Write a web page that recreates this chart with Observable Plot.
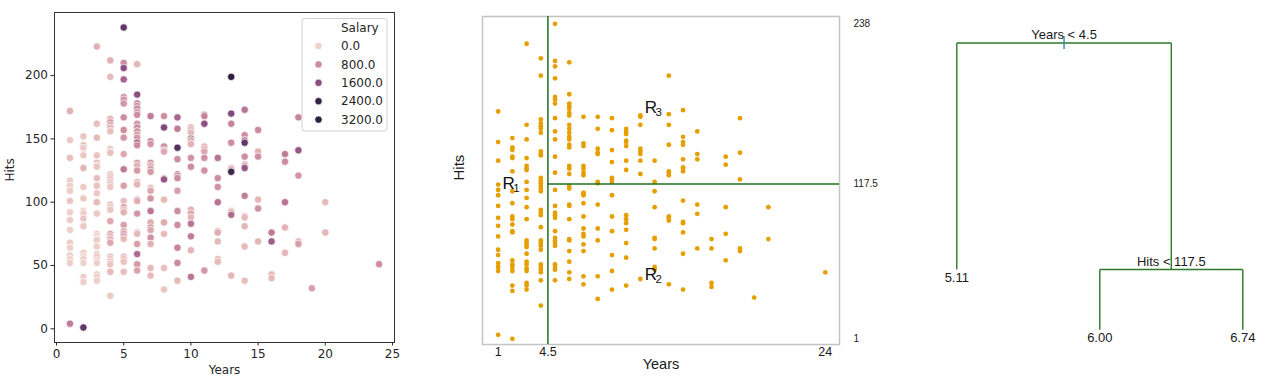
<!DOCTYPE html>
<html>
<head>
<meta charset="utf-8">
<script src="https://cdn.jsdelivr.net/npm/d3@7"></script>
<script src="https://cdn.jsdelivr.net/npm/@observablehq/plot@0.6"></script>
<style>
html,body{margin:0;padding:0;background:#fff;}
#wrap{position:relative;width:1280px;height:391px;overflow:hidden;background:#fff;}
#wrap > *{position:absolute;top:0;}
</style>
</head>
<body>
<div id="wrap"></div>
<script>
// ---- Hitters data (Years, Hits, Salary) ----
const years = [
  1,1,1,1,1,1,1,1,1,1,1,1,1,1,1,1,
  2,2,2,2,2,2,2,2,2,2,2,2,2,2,2,2,2,2,2,2,
  3,3,3,3,3,3,3,3,3,3,3,3,3,3,3,3,3,3,3,3,3,3,3,3,
  4,4,4,4,4,4,4,4,4,4,4,4,4,4,4,4,4,4,4,4,4,4,4,4,4,4,4,4,4,4,
  5,5,5,5,5,5,5,5,5,5,5,5,5,5,5,5,5,5,5,5,5,5,5,5,5,5,
  6,6,6,6,6,6,6,6,6,6,6,6,6,6,6,6,6,6,6,6,6,6,6,6,6,6,6,6,
  7,7,7,7,7,7,7,7,7,7,7,7,7,7,7,7,7,7,7,
  8,8,8,8,8,8,8,8,8,8,8,8,
  9,9,9,9,9,9,9,9,9,9,9,9,9,
  10,10,10,10,10,10,10,10,10,10,10,10,10,10,10,
  11,11,11,11,11,11,11,11,11,
  12,12,12,12,12,12,12,12,12,
  13,13,13,13,13,13,13,13,13,13,13,
  14,14,14,14,14,14,14,14,14,14,14,14,14,14,
  15,15,15,15,15,15,
  16,16,16,16,
  17,17,17,17,17,
  18,18,18,18,18,
  19,
  20,20,
  24
];
const hits = [
  172,149,135,117,113,109,101,92,86,78,68,64,58,55,52,4,
  152,145,143,138,137,127,112,103,93,91,87,82,81,60,57,55,52,41,37,1,
  223,162,151,137,131,129,128,119,113,107,100,91,75,73,71,70,65,59,57,54,52,43,41,38,
  212,199,166,163,161,159,156,142,140,139,122,120,118,116,114,112,98,96,94,85,75,73,71,68,57,55,53,51,45,26,
  238,210,206,197,183,181,178,167,157,151,138,126,113,101,96,94,92,82,77,75,73,71,57,55,53,45,
  209,185,178,176,174,171,169,162,159,156,153,151,147,145,131,129,125,116,114,102,101,91,76,75,67,59,51,46,
  168,148,146,131,129,126,124,111,110,109,103,93,84,80,78,72,67,48,42,
  168,159,144,141,140,119,118,102,84,75,48,31,
  167,158,143,134,122,121,119,109,93,82,64,52,38,
  159,157,155,150,149,146,135,128,94,91,88,83,73,62,41,
  169,168,162,144,142,140,135,125,46,
  135,119,112,100,77,76,69,55,53,
  199,170,162,147,127,126,124,93,92,90,42,
  173,153,149,147,136,130,129,127,105,89,88,81,65,38,
  157,140,136,102,95,69,
  76,69,43,40,
  138,132,100,80,60,
  167,141,121,69,67,
  32,
  100,76,
  51
];
const salary = [
  400,150,250,120,90,100,180,75,110,70,95,80,100,68,90,1000,
  200,300,150,250,175,350,120,140,90,110,200,100,160,75,85,95,70,100,80,2000,
  400,250,300,200,350,150,180,275,220,140,300,160,110,90,130,100,85,95,120,90,75,100,110,90,
  400,300,300,750,650,300,250,200,280,220,200,250,300,180,220,150,260,200,180,500,550,450,300,500,250,220,200,180,300,150,
  2000,800,1600,1300,800,750,700,800,800,700,500,1000,600,250,700,300,400,600,500,650,700,300,250,300,200,250,
  350,1600,900,850,800,750,800,700,850,700,750,650,1400,800,700,400,650,300,350,650,450,700,350,300,600,1200,650,550,
  1000,1000,700,800,400,750,650,800,600,500,700,1100,450,700,500,750,400,300,300,
  800,1700,800,700,500,400,1500,300,450,300,250,200,
  1300,1000,2100,800,1400,750,800,600,800,800,900,850,300,
  350,400,300,2400,450,400,750,800,400,550,350,1100,1000,350,1100,
  1200,900,1600,350,450,500,750,750,700,
  1100,800,750,1100,500,450,300,350,300,
  2460,1700,900,800,400,450,2300,350,400,1200,350,
  1100,800,900,2000,800,500,450,1500,1000,350,300,350,300,250,
  850,400,800,350,750,350,
  1000,1400,300,300,
  1000,800,1100,400,350,
  900,1500,700,350,600,
  600,
  300,350,
  800
];

// Left panel ticks and legend
const xTicksLeft = [0, 5, 10, 15, 20, 25];
const yTicksLeft = [0, 50, 100, 150, 200];
const legendTitle = "Salary";
const legendValues = [0, 800, 1600, 2400, 3200];

// Middle panel: split values, tick labels, region labels
const splitYears = 4.5;
const splitHits = 117.5;
const xTicksMid = [1, 4.5, 24];
const yTicksMid = [1, 117.5, 238];
const regionNames = ["R", "R", "R"];
const regionSubs = ["1", "3", "2"];
const regionX = [1.3, 11.3, 11.3];
const regionY = [117.8, 174.8, 49.7];

// Right panel: regression tree
const nodeLabel  = ["Years < 4.5", "5.11", "Hits < 117.5", "6.00", "6.74"];
const nodeParent = [-1, 0, 0, 2, 2];
const nodeHeight = [1, 0.21, 0.21, 0, 0];

// ---------------------------------------------------------------
const idx = d3.range(years.length);

// seaborn default "ch:" cubehelix colormap (light -> dark)
function seabornCubehelix(t) {
  const x = 0.85 + (0.15 - 0.85) * t;
  const a = 0.8 * x * (1 - x) / 2;
  const phi = 2 * Math.PI * (0.4 * x);
  const f = (p0, p1) => Math.max(0, Math.min(1, x + a * (p0 * Math.cos(phi) + p1 * Math.sin(phi))));
  return d3.rgb(f(-0.14861, 1.78277) * 255, f(-0.29227, -0.90649) * 255, f(1.97294, 0) * 255).formatHex();
}
const salDomain = d3.extent(salary);

const wrap = document.getElementById("wrap");

// ---------------- Panel 1 ----------------
const p1 = Plot.plot({
  width: 410, height: 391,
  marginLeft: 54, marginRight: 16, marginTop: 12, marginBottom: 49,
  style: {fontFamily: "DejaVu Sans", fontSize: "12px", color: "#262626", background: "transparent", overflow: "visible"},
  x: {domain: [-0.15, 25.15]},
  y: {domain: [-10.85, 249.85]},
  color: {type: "linear", domain: salDomain, interpolate: seabornCubehelix, clamp: true},
  marks: [
    Plot.axisX({ticks: xTicksLeft, tickSize: 3.5, tickPadding: 3, label: null, fontSize: 12}),
    Plot.axisY({ticks: yTicksLeft, tickSize: 3.5, tickPadding: 3, label: null, fontSize: 12}),
    Plot.dot(idx, {x: i => years[i], y: i => hits[i], fill: i => salary[i], r: 3.7, stroke: "white", strokeWidth: 0.7}),
    Plot.frame({stroke: "#333", strokeWidth: 1}),
    Plot.text(["Years"], {frameAnchor: "bottom", dy: 31, fontSize: 12}),
    Plot.text(["Hits"], {frameAnchor: "left", dx: -44, dy: 4, rotate: -90, fontSize: 12})
  ]
});
p1.style.left = "0px";
wrap.appendChild(p1);

// legend overlay for panel 1
const colorScale = p1.scale("color");
const colorOf = v => (colorScale && colorScale.apply) ? colorScale.apply(v)
  : seabornCubehelix(Math.max(0, Math.min(1, (v - salDomain[0]) / (salDomain[1] - salDomain[0]))));
const leg = d3.create("svg").attr("width", 410).attr("height", 391)
  .style("left", "0px").style("font-family", "DejaVu Sans").style("font-size", "12px");
leg.append("rect").attr("x", 302).attr("y", 18.5).attr("width", 85).attr("height", 112.5)
  .attr("rx", 2.5).attr("fill", "white").attr("fill-opacity", 0.85).attr("stroke", "#d0d0d0");
const rows = [{label: legendTitle, v: null}].concat(legendValues.map(v => ({label: v.toFixed(1), v})));
rows.forEach((r, k) => {
  const cy = 27.6 + k * 18.4;
  if (r.v !== null) {
    leg.append("circle").attr("cx", 318.5).attr("cy", cy).attr("r", 3.7)
      .attr("fill", colorOf(r.v)).attr("stroke", "white").attr("stroke-width", 0.7);
  }
  leg.append("text").attr("x", 341).attr("y", cy).attr("dy", "0.35em").attr("fill", "#262626").text(r.label);
});
wrap.appendChild(leg.node());

// ---------------- Panel 2 ----------------
const green = "#1f6f1f";
const p2 = Plot.plot({
  width: 440, height: 391,
  marginLeft: 42, marginRight: 41, marginTop: 16, marginBottom: 47,
  style: {fontFamily: "Liberation Sans", fontSize: "12px", color: "#1a1a1a", background: "transparent", overflow: "visible"},
  x: {domain: [-0.1, 25]},
  y: {domain: [-3.3, 243.5]},
  marks: [
    Plot.frame({stroke: "#c4c4c4", strokeWidth: 1.5}),
    Plot.axisX({ticks: xTicksMid, tickSize: 0, tickPadding: 3, label: null, fontSize: 12.5, tickFormat: d => String(d)}),
    Plot.axisY({anchor: "right", ticks: yTicksMid, tickSize: 0, tickPadding: 14, label: null, fontSize: 10, tickFormat: d => String(d)}),
    Plot.dot(idx, {x: i => years[i], y: i => hits[i], r: 2.4, fill: "#E69F00"}),
    Plot.ruleX([splitYears], {stroke: green, strokeWidth: 1.5}),
    Plot.ruleY([splitHits], {x1: splitYears, x2: 25, stroke: green, strokeWidth: 1.5}),
    Plot.text(regionNames, {x: (d, i) => regionX[i], y: (d, i) => regionY[i], text: d => d, textAnchor: "start", fontSize: 17, fill: "#111"}),
    Plot.text(regionSubs, {x: (d, i) => regionX[i], y: (d, i) => regionY[i], text: d => d, textAnchor: "start", dx: 10.8, dy: 5, fontSize: 11.5, fill: "#111"}),
    Plot.text(["Years"], {frameAnchor: "bottom", dy: 24, fontSize: 14.5}),
    Plot.text(["Hits"], {frameAnchor: "left", dx: -23.5, rotate: -90, fontSize: 15})
  ]
});
p2.style.left = "440px";
wrap.appendChild(p2);

// ---------------- Panel 3 (tree) ----------------
const nodes = nodeLabel.map((label, i) => ({i, label, parent: nodeParent[i], h: nodeHeight[i], children: []}));
nodes.forEach(n => { if (n.parent >= 0) nodes[n.parent].children.push(n); });
let leafCount = 0;
(function place(n) {
  if (n.children.length === 0) { n.x = ++leafCount; return n.x; }
  n.x = d3.mean(n.children.map(place));
  return n.x;
})(nodes[0]);
const segs = [];
nodes.forEach(n => {
  if (n.children.length) {
    const xs = n.children.map(c => c.x);
    segs.push({x1: d3.min(xs), y1: n.h, x2: d3.max(xs), y2: n.h});
    n.children.forEach(c => segs.push({x1: c.x, y1: n.h, x2: c.x, y2: c.h}));
  }
});
const internal = nodes.filter(n => n.children.length);
const leaves = nodes.filter(n => !n.children.length);
const vtick = {draw(ctx) { ctx.moveTo(0, -7); ctx.lineTo(0, 6); }};

const p3 = Plot.plot({
  width: 380, height: 391,
  marginLeft: 0, marginRight: 0, marginTop: 0, marginBottom: 0,
  style: {fontFamily: "Liberation Sans", fontSize: "13px", color: "#1a1a1a", background: "transparent", overflow: "visible"},
  x: {domain: [1, 3], range: [56.3, 342.3], axis: null},
  y: {domain: [0, 1], range: [329.3, 42.5], axis: null},
  marks: [
    Plot.link(segs, {x1: "x1", y1: "y1", x2: "x2", y2: "y2", stroke: "#2a7a2a", strokeWidth: 1.4}),
    Plot.dot([nodes[0]], {x: "x", y: "h", symbol: vtick, stroke: "#2b8da3", strokeWidth: 1.4, fill: "none"}),
    Plot.text(internal, {x: "x", y: "h", text: "label", dy: -8, fontSize: 13}),
    Plot.text(leaves, {x: "x", y: "h", text: "label", dy: 8, fontSize: 13})
  ]
});
p3.style.left = "900px";
wrap.appendChild(p3);
</script>
</body>
</html>
